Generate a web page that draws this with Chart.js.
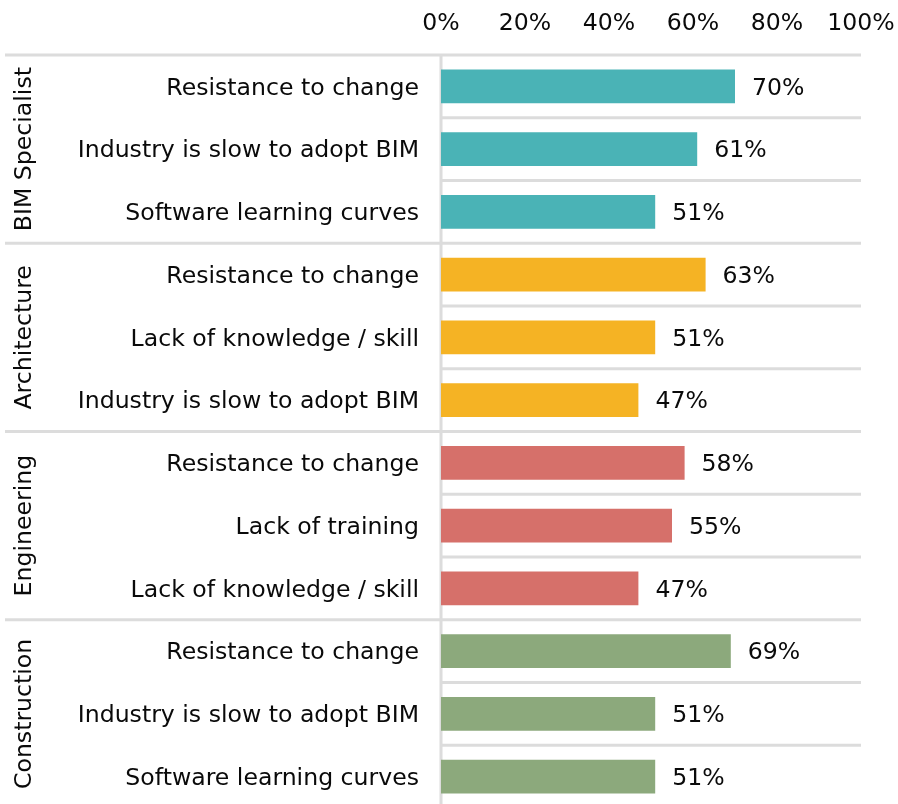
<!DOCTYPE html>
<html>
<head>
<meta charset="utf-8">
<script src="https://cdn.jsdelivr.net/npm/chart.js@4.4.1/dist/chart.umd.min.js"></script>
<style>
  html, body { margin: 0; padding: 0; background: #fff; overflow: hidden; }
  #chart { display: block; }
</style>
</head>
<body>
<canvas id="chart" width="898" height="813"></canvas>
<script>
// Data
const groups = ['BIM Specialist', 'Architecture', 'Engineering', 'Construction'];
const groupSizes = [3, 3, 3, 3];
const groupColors = ['#4ab3b6', '#f5b324', '#d6706a', '#8ca97c'];

const categories = [
  'Resistance to change', 'Industry is slow to adopt BIM', 'Software learning curves',
  'Resistance to change', 'Lack of knowledge / skill', 'Industry is slow to adopt BIM',
  'Resistance to change', 'Lack of training', 'Lack of knowledge / skill',
  'Resistance to change', 'Industry is slow to adopt BIM', 'Software learning curves'
];
const values = [70, 61, 51, 63, 51, 47, 58, 55, 47, 69, 51, 51];
const xTicks = [0, 20, 40, 60, 80, 100];

const FONT = 'DejaVu Sans';
const FONT_SIZE = 23.6;
const TEXT = '#0a0a0a';
const LINE = '#dcdcdc';

// one colour per bar, taken from its group
const barColors = [];
groupSizes.forEach((n, g) => { for (let i = 0; i < n; i++) barColors.push(groupColors[g]); });

// Separator lines, group labels and value labels
const decorations = {
  id: 'decorations',
  beforeDatasetsDraw(chart) {
    const { ctx, chartArea, scales: { x, y } } = chart;
    const half = (y.getPixelForValue(1) - y.getPixelForValue(0)) / 2;
    ctx.save();
    ctx.strokeStyle = LINE;
    ctx.lineWidth = 3;
    // row separators (group boundaries run the full width)
    let idx = 0;
    const boundaries = new Set([0]);
    groupSizes.forEach(n => { idx += n; boundaries.add(idx); });
    for (let i = 0; i <= categories.length; i++) {
      const py = y.getPixelForValue(i) - half;
      ctx.beginPath();
      ctx.moveTo(boundaries.has(i) ? 5 : x.getPixelForValue(0), py);
      ctx.lineTo(x.getPixelForValue(100), py);
      ctx.stroke();
    }
    // zero line
    const x0 = x.getPixelForValue(0);
    ctx.beginPath();
    ctx.moveTo(x0, chartArea.top);
    ctx.lineTo(x0, chartArea.bottom + 10);
    ctx.stroke();
    ctx.restore();
  },
  afterDatasetsDraw(chart) {
    const { ctx, scales: { x, y } } = chart;
    ctx.save();
    ctx.fillStyle = TEXT;
    ctx.font = FONT_SIZE + 'px "' + FONT + '"';
    ctx.textBaseline = 'middle';
    ctx.textAlign = 'left';
    values.forEach((v, i) => {
      ctx.fillText(v + '%', x.getPixelForValue(v) + 17, y.getPixelForValue(i) + 2);
    });
    // rotated group names
    ctx.textAlign = 'center';
    let start = 0;
    groups.forEach((g, gi) => {
      const end = start + groupSizes[gi] - 1;
      const cy = (y.getPixelForValue(start) + y.getPixelForValue(end)) / 2;
      ctx.save();
      ctx.translate(25, cy);
      ctx.rotate(-Math.PI / 2);
      ctx.fillText(g, 0, 0);
      ctx.restore();
      start = end + 1;
    });
    ctx.restore();
  }
};

new Chart(document.getElementById('chart'), {
  type: 'bar',
  data: {
    labels: categories,
    datasets: [{
      data: values,
      backgroundColor: barColors,
      borderWidth: 0,
      categoryPercentage: 0.54,
      barPercentage: 1
    }]
  },
  options: {
    indexAxis: 'y',
    responsive: false,
    animation: false,
    layout: { padding: { left: 0, right: 37, top: 0, bottom: 5 } },
    plugins: { legend: { display: false }, tooltip: { enabled: false } },
    scales: {
      x: {
        position: 'top',
        min: 0,
        max: 100,
        afterBuildTicks(scale) { scale.ticks = xTicks.map(v => ({ value: v })); },
        afterFit(scale) {
          scale.height = 55;
          scale.paddingLeft = 0;
          scale.paddingRight = 0;
        },
        grid: { display: false },
        border: { display: false },
        ticks: {
          padding: 9,
          color: TEXT,
          font: { family: FONT, size: FONT_SIZE },
          callback: v => v + '%'
        }
      },
      y: {
        afterFit(scale) {
          scale.width = 441;
          scale.paddingTop = 0;
          scale.paddingBottom = 0;
        },
        grid: { display: false },
        border: { display: false },
        ticks: {
          padding: 14,
          labelOffset: 2,
          color: TEXT,
          font: { family: FONT, size: FONT_SIZE },
          autoSkip: false
        }
      }
    }
  },
  plugins: [decorations]
});
</script>
</body>
</html>
